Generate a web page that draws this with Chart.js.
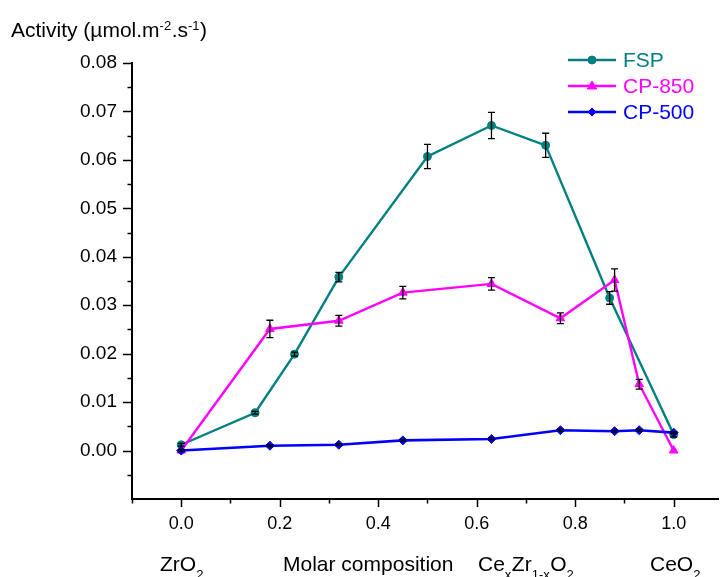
<!DOCTYPE html>
<html><head><meta charset="utf-8">
<script src="https://cdn.jsdelivr.net/npm/chart.js@4.4.1/dist/chart.umd.min.js"></script>
<style>html,body{margin:0;padding:0;background:#fff}#wrap{width:724px;height:577px;position:relative}canvas{display:block}</style>
</head><body><div id="wrap"><canvas id="c" width="724" height="577"></canvas></div>
<script>
// ---- data ----
const fspX   = [0, 0.15, 0.23, 0.32, 0.50, 0.63, 0.74, 0.87, 1.00];
const fspY   = [0.0012, 0.0078, 0.0199, 0.0358, 0.0607, 0.0671, 0.0630, 0.0315, 0.0033];
const fspErr = [0.0003, 0.0003, 0.0004, 0.0010, 0.0025, 0.0027, 0.0025, 0.0013, 0.0005];

const cp850X   = [0, 0.18, 0.32, 0.45, 0.63, 0.77, 0.88, 0.93, 1.00];
const cp850Y   = [0.0, 0.0251, 0.0268, 0.0326, 0.0344, 0.0273, 0.0352, 0.0137, 0.0];
const cp850Err = [0, 0.0018, 0.0011, 0.0013, 0.0013, 0.0011, 0.0023, 0.0010, 0];

const cp500X   = [0, 0.18, 0.32, 0.45, 0.63, 0.77, 0.88, 0.93, 1.00];
const cp500Y   = [0.0, 0.0010, 0.0012, 0.0021, 0.0024, 0.0042, 0.0040, 0.0042, 0.0037];
const cp500Err = [0.0002, 0.0002, 0.0002, 0.0002, 0.0002, 0.0002, 0.0002, 0.0002, 0.0002];

const seriesNames = ['FSP', 'CP-850', 'CP-500'];
const xMajorTicks = [0.0, 0.2, 0.4, 0.6, 0.8, 1.0];
const xMinorTicks = [-0.1, 0.1, 0.3, 0.5, 0.7, 0.9];
const yMajorTicks = [0.00, 0.01, 0.02, 0.03, 0.04, 0.05, 0.06, 0.07, 0.08];
const yMinorTicks = [-0.005, 0.005, 0.015, 0.025, 0.035, 0.045, 0.055, 0.065, 0.075];

const titleParts = [['Activity (\u00B5mol.m','n'],['-2','sup'],['.s','n'],['-1','sup'],[')','n']];
const bottomLabels = [
  {x:160, parts:[['ZrO','n'],['2','sub']]},
  {x:283, parts:[['Molar composition','n']]},
  {x:478, parts:[['Ce','n'],['x','sub'],['Zr','n'],['1-x','sub'],['O','n'],['2','sub']]},
  {x:650, parts:[['CeO','n'],['2','sub']]}
];

const FONT = '"Liberation Sans", Arial, sans-serif';
const colors = ['#008080', '#FF00FF', '#0000FF'];
const styles = ['circle', 'triangle', 'rectRot'];

function pts(xs, ys){ return xs.map((x,i)=>({x:x, y:ys[i]})); }

function drawRich(ctx, x, base, parts, size){
  let cx = x;
  parts.forEach(([t, k])=>{
    if (k === 'n'){ ctx.font = size + 'px ' + FONT; ctx.fillText(t, cx, base); }
    else if (k === 'sup'){ ctx.font = '13px ' + FONT; ctx.fillText(t, cx, base - 7); }
    else { ctx.font = '13px ' + FONT; ctx.fillText(t, cx, base + 8); }
    cx += ctx.measureText(t).width + (k === 'n' ? 0 : 0.5);
  });
}

function drawMarker(ctx, style, x, y, r, color){
  ctx.save();
  ctx.fillStyle = color; ctx.strokeStyle = color; ctx.lineWidth = 1;
  ctx.beginPath();
  if (style === 'circle'){ ctx.arc(x, y, r, 0, Math.PI*2); }
  else if (style === 'triangle'){
    ctx.moveTo(x, y - r); ctx.lineTo(x + r*0.95, y + r*0.6); ctx.lineTo(x - r*0.95, y + r*0.6); ctx.closePath();
  } else {
    ctx.moveTo(x, y - r); ctx.lineTo(x + r, y); ctx.lineTo(x, y + r); ctx.lineTo(x - r, y); ctx.closePath();
  }
  ctx.fill(); ctx.stroke();
  ctx.restore();
}

const errorBars = {
  id: 'errorBars',
  afterDatasetsDraw(chart){
    const {ctx} = chart; const xs = chart.scales.x, ys = chart.scales.y;
    ctx.save(); ctx.strokeStyle = '#000'; ctx.lineWidth = 1.3;
    chart.data.datasets.forEach(ds=>{
      ds.errors.forEach((e, j)=>{
        if (!e) return;
        const p = ds.data[j];
        const px = xs.getPixelForValue(p.x);
        const t = ys.getPixelForValue(p.y + e), b = ys.getPixelForValue(p.y - e);
        ctx.beginPath();
        ctx.moveTo(px, t); ctx.lineTo(px, b);
        ctx.moveTo(px - 3.5, t); ctx.lineTo(px + 3.5, t);
        ctx.moveTo(px - 3.5, b); ctx.lineTo(px + 3.5, b);
        ctx.stroke();
      });
    });
    ctx.restore();
  }
};

const decorations = {
  id: 'decorations',
  afterDraw(chart){
    const {ctx, chartArea: a} = chart; const xs = chart.scales.x, ys = chart.scales.y;
    ctx.save();
    ctx.strokeStyle = '#000'; ctx.lineWidth = 1.5;
    ctx.beginPath();
    xMajorTicks.forEach(v=>{ const p = Math.round(xs.getPixelForValue(v)) + 0.5; ctx.moveTo(p, a.bottom); ctx.lineTo(p, a.bottom + 8); });
    xMinorTicks.forEach(v=>{ const p = Math.round(xs.getPixelForValue(v)) + 0.5; ctx.moveTo(p, a.bottom); ctx.lineTo(p, a.bottom + 4.5); });
    yMajorTicks.forEach(v=>{ const p = Math.round(ys.getPixelForValue(v)) + 0.5; ctx.moveTo(a.left, p); ctx.lineTo(a.left - 9, p); });
    yMinorTicks.forEach(v=>{ const p = Math.round(ys.getPixelForValue(v)) + 0.5; ctx.moveTo(a.left, p); ctx.lineTo(a.left - 4.5, p); });
    ctx.stroke();

    // title
    ctx.fillStyle = '#000'; ctx.textBaseline = 'alphabetic'; ctx.textAlign = 'left';
    drawRich(ctx, 11, 37, titleParts, 21);
    // bottom labels
    bottomLabels.forEach(l=> drawRich(ctx, l.x, 571, l.parts, 21));

    // legend
    const rows = [60, 86, 112];
    chart.data.datasets.forEach((ds, i)=>{
      const y = rows[i];
      ctx.strokeStyle = colors[i]; ctx.lineWidth = 2.5;
      ctx.beginPath(); ctx.moveTo(568, y); ctx.lineTo(616, y); ctx.stroke();
      drawMarker(ctx, styles[i], 592, y, i === 1 ? 5 : 4, colors[i]);
      ctx.fillStyle = colors[i]; ctx.font = '21px ' + FONT; ctx.textBaseline = 'middle';
      ctx.fillText(ds.label, 623, y + 1);
    });
    ctx.restore();
  }
};

new Chart(document.getElementById('c'), {
  type: 'line',
  data: {
    datasets: [
      {label: seriesNames[0], data: pts(fspX, fspY), errors: fspErr, borderColor: colors[0], backgroundColor: colors[0],
       pointStyle: styles[0], pointRadius: 4, pointBorderWidth: 1, borderWidth: 2.4, tension: 0, order: 2},
      {label: seriesNames[1], data: pts(cp850X, cp850Y), errors: cp850Err, borderColor: colors[1], backgroundColor: colors[1],
       pointStyle: styles[1], pointRadius: 5, pointBorderWidth: 1, borderWidth: 2.4, tension: 0, order: 1},
      {label: seriesNames[2], data: pts(cp500X, cp500Y), errors: cp500Err, borderColor: colors[2], backgroundColor: colors[2],
       pointStyle: styles[2], pointRadius: 4.5, pointBorderWidth: 1, borderWidth: 2.6, tension: 0, order: 0}
    ]
  },
  options: {
    responsive: false,
    animation: false,
    devicePixelRatio: 1,
    layout: {padding: {top: 63, right: 2, left: 0, bottom: 0}},
    plugins: {legend: {display: false}, tooltip: {enabled: false}},
    scales: {
      x: {
        type: 'linear', min: -0.1, max: 1.09,
        afterFit: s => { s.height = 78; },
        afterBuildTicks: s => { s.ticks = xMajorTicks.map(v=>({value: v})); },
        grid: {display: false, drawTicks: true, tickLength: 8},
        border: {display: true, color: '#000', width: 2},
        ticks: {color: '#000', font: {family: FONT, size: 18}, padding: 6, maxRotation: 0, autoSkip: false,
                callback: v => Number(v).toFixed(1)}
      },
      y: {
        type: 'linear', min: -0.01, max: 0.08,
        afterFit: s => { s.width = 132; },
        afterBuildTicks: s => { s.ticks = yMajorTicks.map(v=>({value: v})); },
        grid: {display: false, drawTicks: true, tickLength: 9},
        border: {display: true, color: '#000', width: 2},
        ticks: {color: '#000', font: {family: FONT, size: 19}, padding: 6, autoSkip: false,
                callback: v => Number(v).toFixed(2)}
      }
    }
  },
  plugins: [errorBars, decorations]
});
</script></body></html>
